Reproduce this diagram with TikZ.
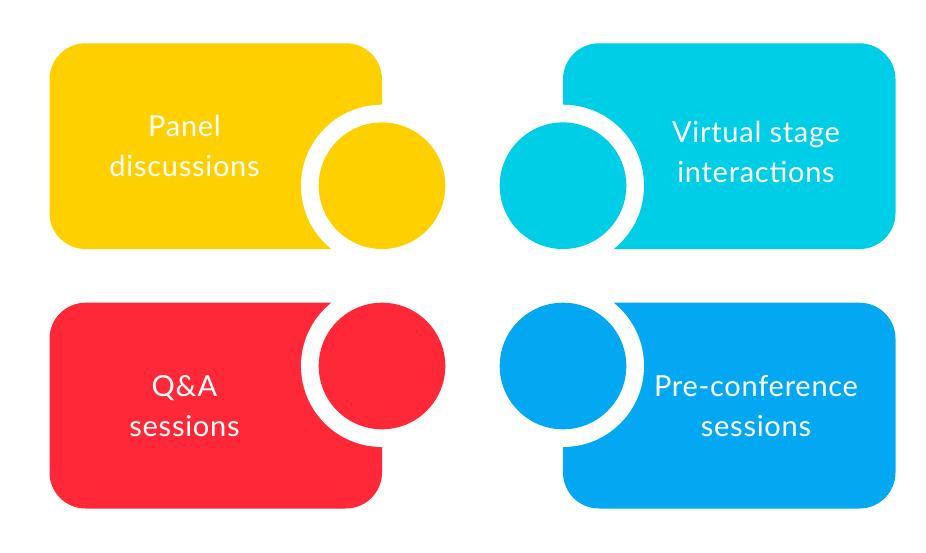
\documentclass[tikz,border=0pt]{standalone}
\usepackage{fontspec}
\setmainfont{Lato}[LetterSpace=2.5]
\definecolor{panelyellow}{RGB}{255,208,0}
\definecolor{stagecyan}{RGB}{0,205,230}
\definecolor{qared}{RGB}{255,40,56}
\definecolor{preblue}{RGB}{4,168,242}
\tikzset{boxlabel/.style={text=white, align=center, inner sep=0pt, font=\fontsize{29}{40}\selectfont}}
\begin{document}
\begin{tikzpicture}[x=1pt,y=-1pt]
\useasboundingbox (0,0) rectangle (926,552);

\fill[panelyellow, rounded corners=36pt] (49.5,43.3) rectangle (382,249);
\fill[stagecyan, rounded corners=36pt] (563,43.3) rectangle (895.5,249);
\fill[qared, rounded corners=36pt] (49.5,302.7) rectangle (382,508.5);
\fill[preblue, rounded corners=36pt] (563,302.7) rectangle (895.5,508.5);

\foreach \cx/\cy/\col in {382/185.7/panelyellow, 563/185.7/stagecyan, 382/366/qared, 563/366/preblue} {
    \fill[white] (\cx,\cy) circle (81pt);
    \fill[\col] (\cx,\cy) circle (63.3pt);
}

\node[boxlabel] (panel) at (184.5,146) {Panel\\discussions};
\node[boxlabel] (stage) at (756,152) {Virtual stage\\interactions};
\node[boxlabel] (qa) at (184.5,406) {Q\&A\\sessions};
\node[boxlabel] (preconf) at (756,406.3) {Pre-conference\\sessions};
\end{tikzpicture}
\end{document}
